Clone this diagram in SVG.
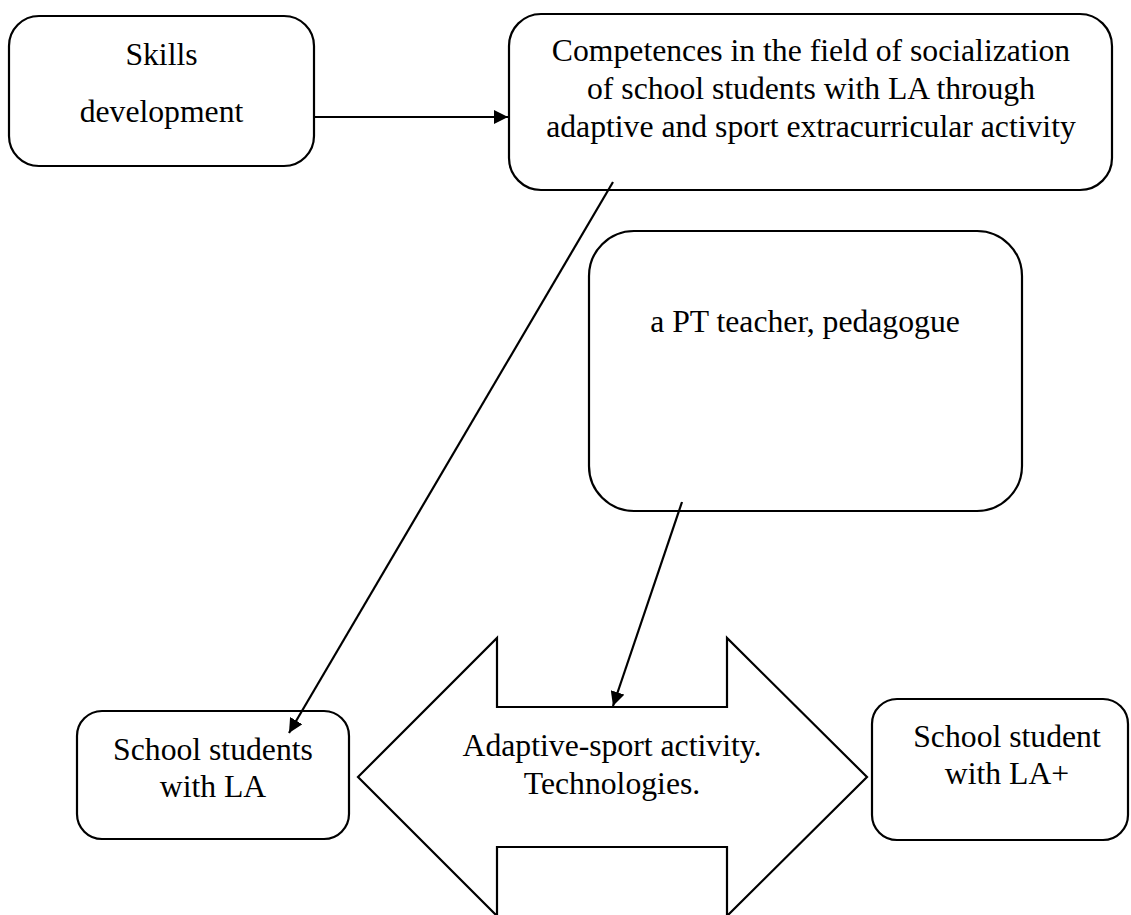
<svg xmlns="http://www.w3.org/2000/svg" width="1131" height="915" viewBox="0 0 1131 915">
  <style>
    .box { fill: #ffffff; stroke: #000000; stroke-width: 2.2; }
    .lbl { font-family: "Liberation Serif", "Times New Roman", serif; font-size: 31.7px; fill: #000000; text-anchor: middle; }
    .conn { stroke: #000000; stroke-width: 2.2; fill: none; marker-end: url(#arrow); }
  </style>
  <defs>
    <marker id="arrow" viewBox="0 0 10 10" refX="10" refY="5" markerWidth="6.5" markerHeight="6.5" markerUnits="strokeWidth" orient="auto">
      <path d="M0,0 L10,5 L0,10 Z" fill="#000000"/>
    </marker>
  </defs>
  <rect width="1131" height="915" fill="#ffffff"/>

  <g id="node-skills">
    <rect class="box" x="9" y="16" width="305" height="150" rx="30" ry="30"/>
    <text class="lbl" x="161.5" y="65">Skills</text>
    <text class="lbl" x="161.5" y="122">development</text>
  </g>

  <g id="node-competences">
    <rect class="box" x="509" y="14" width="603" height="176" rx="32" ry="32"/>
    <text class="lbl" x="811" y="61">Competences in the field of socialization</text>
    <text class="lbl" x="811" y="99">of school students with LA through</text>
    <text class="lbl" x="811" y="137">adaptive and sport extracurricular activity</text>
  </g>

  <g id="node-teacher">
    <rect class="box" x="589" y="231" width="433" height="280" rx="45" ry="45"/>
    <text class="lbl" x="805" y="332">a PT teacher, pedagogue</text>
  </g>

  <g id="node-students">
    <rect class="box" x="77" y="711" width="272" height="128" rx="25" ry="25"/>
    <text class="lbl" x="213" y="760">School students</text>
    <text class="lbl" x="213" y="797">with LA</text>
  </g>

  <g id="node-activity">
    <path class="box" d="M358,777 L497,638 L497,707 L727,707 L727,638 L867,777 L727,916 L727,847 L497,847 L497,916 Z"/>
    <text class="lbl" x="612" y="756">Adaptive-sport activity.</text>
    <text class="lbl" x="612" y="794">Technologies.</text>
  </g>

  <g id="node-student-plus">
    <rect class="box" x="872" y="699" width="256" height="141" rx="25" ry="25"/>
    <text class="lbl" x="1007" y="747">School student</text>
    <text class="lbl" x="1007" y="784">with LA+</text>
  </g>

  <g id="connectors">
    <line class="conn" x1="314" y1="117" x2="508" y2="117"/>
    <line class="conn" x1="613" y1="182" x2="289" y2="733"/>
    <line class="conn" x1="682" y1="502" x2="613" y2="706"/>
  </g>
</svg>
